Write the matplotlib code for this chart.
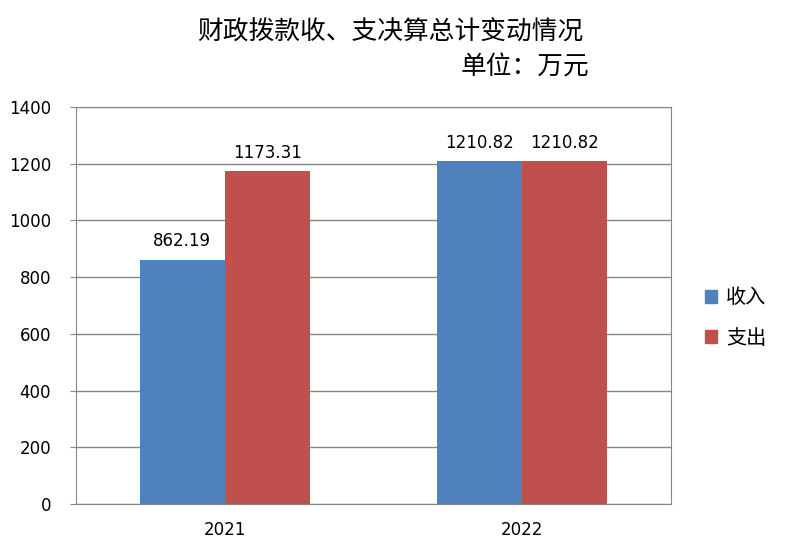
import matplotlib
matplotlib.use("Agg")
import matplotlib.pyplot as plt
import numpy as np
from matplotlib.patches import Patch

plt.rcParams['font.family'] = ['Noto Sans CJK SC', 'DejaVu Sans']

categories = ['2021', '2022']
income = [862.19, 1210.82]
expense = [1173.31, 1210.82]
series_names = ['收入', '支出']
title_line1 = '财政拨款收、支决算总计变动情况'
title_line2 = '单位：万元'

blue = '#4F81BD'
red = '#C0504D'

fig = plt.figure(figsize=(7.85, 5.57), dpi=100)
W, H = 785, 557
ax = fig.add_axes([76 / W, 1 - 504 / H, (671 - 76) / W, (504 - 107) / H])

x = np.arange(len(categories))
bw = 0.286
ax.bar(x - bw / 2, income, bw, color=blue, zorder=3)
ax.bar(x + bw / 2, expense, bw, color=red, zorder=3)

for xi, v in zip(x - bw / 2, income):
    ax.text(xi, v + 32, f'{v:.2f}', ha='center', va='bottom', fontsize=12, family=['DejaVu Sans'])
for xi, v in zip(x + bw / 2, expense):
    ax.text(xi, v + 32, f'{v:.2f}', ha='center', va='bottom', fontsize=12, family=['DejaVu Sans'])

ax.set_xlim(-0.5, 1.5)
ax.set_ylim(0, 1400)
ax.set_yticks(range(0, 1401, 200))
ax.set_xticks(x)
ax.set_xticklabels(categories)
ax.yaxis.grid(True, color='#868686', linewidth=1, zorder=0)
for s in ax.spines.values():
    s.set_color('#868686')
ax.tick_params(axis='x', length=0, pad=12, labelsize=12)
ax.tick_params(axis='y', length=4, color='#868686', pad=14, labelsize=12)
for lbl in ax.get_xticklabels() + ax.get_yticklabels():
    lbl.set_family(['DejaVu Sans'])

fig.text(390 / W, 1 - 33 / H, title_line1, ha='center', va='center', fontsize=18.5)
fig.text(589 / W, 1 - 68 / H, title_line2, ha='right', va='center', fontsize=18.5)

handles = [Patch(color=blue), Patch(color=red)]
fig.legend(handles, series_names, loc='center left', bbox_to_anchor=(687 / W, 1 - 318 / H),
           frameon=False, fontsize=14.5, handlelength=0.6, handleheight=0.6,
           labelspacing=0.95, handletextpad=0.45)

fig.savefig('out.png', dpi=100)
